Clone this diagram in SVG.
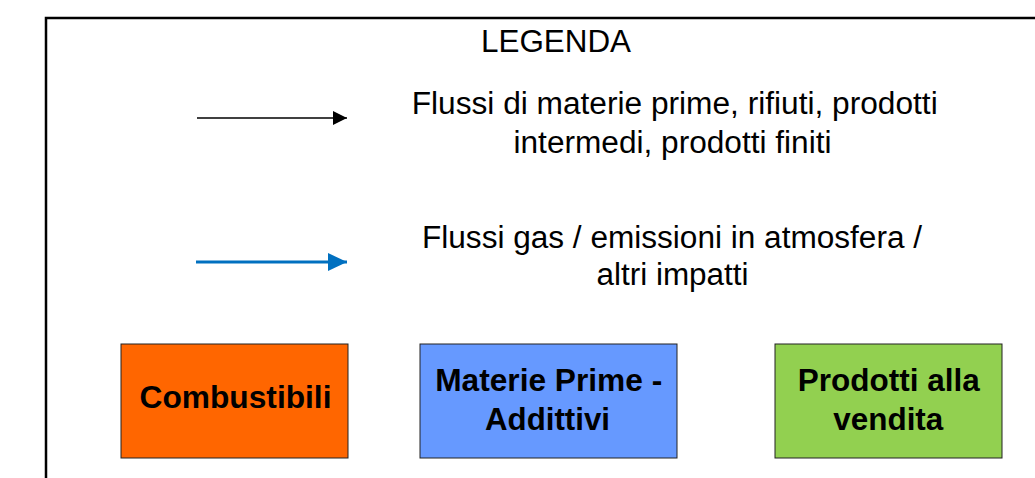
<svg xmlns="http://www.w3.org/2000/svg" width="1035" height="478" viewBox="0 0 1035 478">
<defs>
<style>
.t{font-family:"Liberation Sans",Arial,sans-serif;font-size:31px;fill:#000;}
.b{font-family:"Liberation Sans",Arial,sans-serif;font-size:31px;font-weight:bold;fill:#000;}
.box{stroke:#222;stroke-width:1;}
</style>
<marker id="ahBlack" markerUnits="userSpaceOnUse" markerWidth="14" markerHeight="14" refX="14" refY="7" orient="auto" viewBox="0 0 14 14"><path d="M0,0 L14,7 L0,14 Z" fill="#000"/></marker>
<marker id="ahBlue" markerUnits="userSpaceOnUse" markerWidth="19" markerHeight="18" refX="19" refY="9" orient="auto" viewBox="0 0 19 18"><path d="M0,0 L19,9 L0,18 Z" fill="#0070C0"/></marker>
</defs>
<rect width="1035" height="478" fill="#fff"/>
<path id="frame" d="M46,480 V18 H1040" fill="none" stroke="#000" stroke-width="2.5"/>
<text class="t" x="556" y="52" text-anchor="middle" textLength="150" lengthAdjust="spacingAndGlyphs">LEGENDA</text>
<g id="connectors">
<line x1="197" y1="118" x2="347" y2="118" stroke="#000" stroke-width="1.3" marker-end="url(#ahBlack)"/>
<line x1="196" y1="262" x2="347" y2="262" stroke="#0070C0" stroke-width="3" marker-end="url(#ahBlue)"/>
</g>
<g id="legend-text-1">
<text class="t" x="674.7" y="114" text-anchor="middle" textLength="526" lengthAdjust="spacingAndGlyphs">Flussi di materie prime, rifiuti, prodotti</text>
<text class="t" x="672.5" y="153" text-anchor="middle" textLength="318" lengthAdjust="spacingAndGlyphs">intermedi, prodotti finiti</text>
</g>
<g id="legend-text-2">
<text class="t" x="672" y="248" text-anchor="middle" textLength="500" lengthAdjust="spacingAndGlyphs">Flussi gas / emissioni in atmosfera /</text>
<text class="t" x="672.5" y="285" text-anchor="middle" textLength="152" lengthAdjust="spacingAndGlyphs">altri impatti</text>
</g>
<g id="combustibili">
<rect class="box" x="121" y="344" width="227" height="114" fill="#FF6600"/>
<text class="b" x="235.5" y="408" text-anchor="middle" textLength="192" lengthAdjust="spacingAndGlyphs">Combustibili</text>
</g>
<g id="materie-prime">
<rect class="box" x="420" y="344" width="257" height="114" fill="#6699FF"/>
<text class="b" x="548.7" y="391" text-anchor="middle" textLength="227" lengthAdjust="spacingAndGlyphs">Materie Prime -</text>
<text class="b" x="547.5" y="430" text-anchor="middle" textLength="125" lengthAdjust="spacingAndGlyphs">Addittivi</text>
</g>
<g id="prodotti">
<rect class="box" x="775" y="344" width="227" height="114" fill="#92D050"/>
<text class="b" x="888.8" y="391" text-anchor="middle" textLength="182" lengthAdjust="spacingAndGlyphs">Prodotti alla</text>
<text class="b" x="888.3" y="430" text-anchor="middle" textLength="110" lengthAdjust="spacingAndGlyphs">vendita</text>
</g>
</svg>
